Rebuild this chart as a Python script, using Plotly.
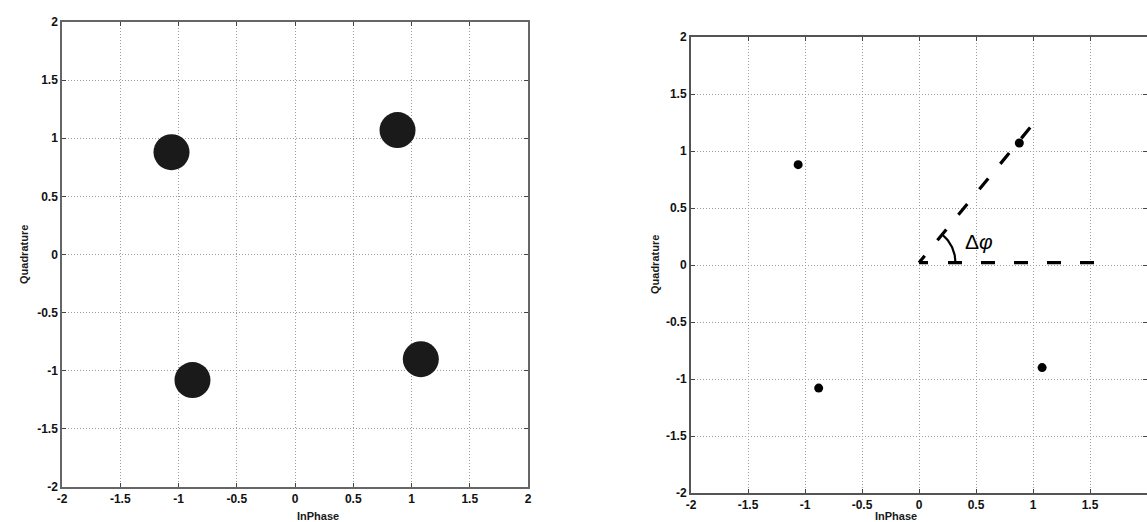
import numpy as np
import plotly.graph_objects as go

# QPSK constellation points (I, Q) after phase rotation
inphase = [-1.06, 0.88, -0.88, 1.08]
quadrature = [0.88, 1.07, -1.08, -0.90]

tick_vals = [-2, -1.5, -1, -0.5, 0, 0.5, 1, 1.5, 2]
tick_text = ["-2", "-1.5", "-1", "-0.5", "0", "0.5", "1", "1.5", "2"]

# reference symbol used to show the phase offset, and the dashed ray length
ref_symbol = 1
ray_length = 1.56
arc_radius = 0.32
baseline_y = 0.02

W, H = 1147, 522
FONT = "Liberation Sans, Arial, sans-serif"

fig = go.Figure()

# left panel: noisy received clusters drawn as dense dark blobs
fig.add_trace(go.Scatter(
    x=inphase, y=quadrature, mode="markers",
    marker=dict(size=36, color="#1a1a1a", line=dict(width=0)),
    xaxis="x", yaxis="y", showlegend=False))

# right panel: ideal symbol positions
fig.add_trace(go.Scatter(
    x=inphase, y=quadrature, mode="markers",
    marker=dict(size=9, color="#000000", line=dict(width=0)),
    xaxis="x2", yaxis="y2", showlegend=False))

# dashed rays: horizontal reference and the line through the rotated symbol
phi = np.arctan2(quadrature[ref_symbol], inphase[ref_symbol])
dash_pat = "9px,20px,14px,19px,14px,19px,14px,19px,14px,19px,14px,40px"
fig.add_trace(go.Scatter(
    x=[0, ray_length], y=[baseline_y, baseline_y], mode="lines",
    line=dict(color="#000", width=3.2, dash=dash_pat),
    xaxis="x2", yaxis="y2", showlegend=False, hoverinfo="skip"))
fig.add_trace(go.Scatter(
    x=[0, ray_length * np.cos(phi)], y=[baseline_y, baseline_y + ray_length * np.sin(phi)],
    mode="lines", line=dict(color="#000", width=3.2, dash=dash_pat),
    xaxis="x2", yaxis="y2", showlegend=False, hoverinfo="skip"))

# angle arc between the two rays
theta = np.linspace(0, phi, 40)
fig.add_trace(go.Scatter(
    x=arc_radius * np.cos(theta), y=baseline_y + arc_radius * np.sin(theta),
    mode="lines", line=dict(color="#000", width=2.2),
    xaxis="x2", yaxis="y2", showlegend=False, hoverinfo="skip"))

fig.add_annotation(x=0.53, y=0.21, xref="x2", yref="y2", text="Δ<i>φ</i>",
                   showarrow=False,
                   font=dict(family=FONT, size=21, color="#000"))

axis_common = dict(
    range=[-2, 2], tickvals=tick_vals, ticktext=tick_text,
    showgrid=True, gridcolor="#9c9c9c", griddash="1px,2px", gridwidth=1,
    zeroline=False, ticks="inside", ticklen=4, tickcolor="#444",
    showline=True, mirror="ticks", fixedrange=True,
    tickfont=dict(family=FONT, size=12, color="#111", weight=600),
    automargin=False,
)

fig.update_layout(
    width=W, height=H,
    margin=dict(l=0, r=0, t=0, b=0),
    paper_bgcolor="white", plot_bgcolor="white",
    xaxis=dict(axis_common, domain=[62 / W, 528 / W], anchor="y",
               linecolor="#666", linewidth=1.5),
    yaxis=dict(axis_common, domain=[1 - 487 / H, 1 - 22 / H], anchor="x",
               linecolor="#666", linewidth=1.5),
    xaxis2=dict(axis_common, domain=[691 / W, 1147 / W], anchor="y2",
                linecolor="#555", linewidth=2),
    yaxis2=dict(axis_common, domain=[1 - 493 / H, 1 - 37 / H], anchor="x2",
                linecolor="#555", linewidth=2),
)

# axis titles
title_font = dict(family=FONT, size=11, color="#1a1a1a", weight=600)
for cx in (295, 919):
    fig.add_annotation(x=cx / W, y=0, xref="paper", yref="paper",
                       text="InPhase", showarrow=False, yanchor="bottom",
                       yshift=-2, font=title_font)
fig.add_annotation(x=16 / W, y=1 - 255 / H, xref="paper", yref="paper",
                   text="Quadrature", showarrow=False, textangle=-90, font=title_font)
fig.add_annotation(x=655 / W, y=1 - 265 / H, xref="paper", yref="paper",
                   text="Quadrature", showarrow=False, textangle=-90, font=title_font)

fig.write_html("out.html")
